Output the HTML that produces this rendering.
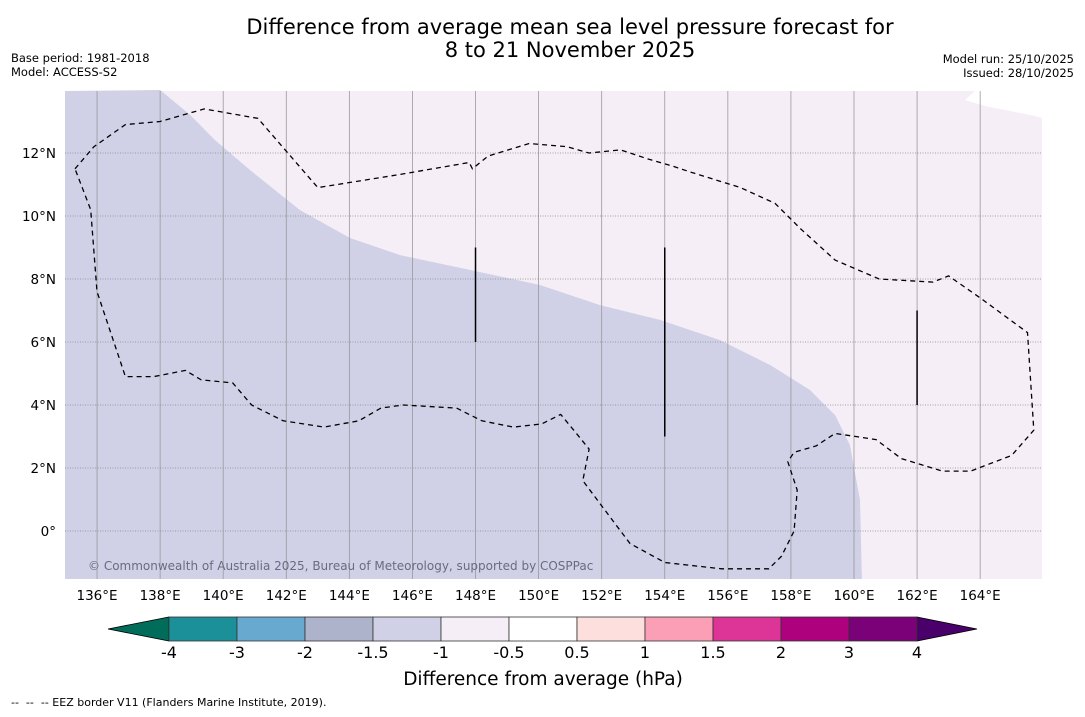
<!DOCTYPE html>
<html><head><meta charset="utf-8"><style>
body{margin:0;background:#fff;font-family:"DejaVu Sans","Liberation Sans",sans-serif;}
svg text{font-family:"DejaVu Sans","Liberation Sans",sans-serif;}
</style></head><body>
<svg id="chart" width="1085" height="713" viewBox="0 0 1085 713">
<text x="570" y="34" font-size="21" text-anchor="middle">Difference from average mean sea level pressure forecast for</text>
<text x="570" y="57" font-size="21" text-anchor="middle">8 to 21 November 2025</text>
<text x="11" y="62" font-size="11.5">Base period: 1981-2018</text>
<text x="11" y="76" font-size="11.5">Model: ACCESS-S2</text>
<text x="1074" y="63" font-size="11.5" text-anchor="end">Model run: 25/10/2025</text>
<text x="1074" y="77" font-size="11.5" text-anchor="end">Issued: 28/10/2025</text>
<g id="map"></g>
<g id="cbar"></g>
<text x="543" y="685" font-size="18.5" text-anchor="middle">Difference from average (hPa)</text>
<text x="11" y="706" font-size="11" xml:space="preserve">--  --  -- EEZ border V11 (Flanders Marine Institute, 2019).</text>
</svg>
<script>
const lonTicks=[136,138,140,142,144,146,148,150,152,154,156,158,160,162,164];
const latTicks=[0,2,4,6,8,10,12];
const cbarLevels=["-4","-3","-2","-1.5","-1","-0.5","0.5","1","1.5","2","3","4"];
const cbarColors=["#1c9099","#67a9cf","#adb3cb","#d0d1e6","#f5eef6","#ffffff","#fde0dd","#fa9fb5","#dd3497","#ae017e","#7a0177"];
const anomalyBoundary=[[138.0,14],[138.95,13.21],[139.74,12.41],[140.85,11.46],[142.43,10.19],[144.02,9.30],[145.61,8.76],[147.82,8.29],[150.04,7.81],[151.95,7.17],[153.85,6.70],[155.75,6.06],[157.34,5.27],[158.6,4.48],[159.4,3.68],[159.87,2.73],[160.19,0.98],[160.25,-1.6]];
const eez=[[135.3,11.5],[135.9,12.2],[136.9,12.9],[138,13.0],[139.4,13.4],[141.1,13.1],[143,10.9],[145.5,11.3],[147.8,11.7],[147.9,11.5],[148.4,11.9],[149.7,12.3],[150.9,12.2],[151.6,12.0],[152.6,12.1],[153.5,11.8],[154.2,11.6],[154.8,11.4],[156.4,10.9],[157.5,10.4],[158.3,9.6],[159.4,8.6],[160.8,8.0],[162.5,7.9],[163.0,8.1],[164.0,7.4],[165.5,6.3],[165.7,3.2],[165,2.4],[163.7,1.9],[162.8,1.9],[161.5,2.3],[160.7,2.9],[159.4,3.1],[158.8,2.7],[158.1,2.5],[157.9,2.2],[158.2,1.3],[158.1,0.0],[157.7,-0.8],[157.3,-1.2],[155.8,-1.2],[154.0,-1.0],[152.9,-0.4],[152.3,0.4],[151.4,1.6],[151.6,2.6],[151.2,3.1],[150.7,3.7],[150.1,3.4],[149.2,3.3],[148.2,3.5],[147.4,3.9],[145.7,4.0],[145.0,3.9],[144.3,3.5],[143.2,3.3],[141.9,3.5],[140.9,4.0],[140.3,4.7],[139.3,4.8],[138.8,5.1],[137.8,4.9],[136.9,4.9],[136.0,7.6],[135.8,10.2],[135.3,11.5]];
const segs=[[148,6,9],[154,3,9],[162,4,7]];
const X0=65.5,PX=31.54,Y0=531,PY=31.5,L=65,R=1042,T=91,B=579;
const xs=lon=>X0+(lon-135)*PX, ys=lat=>Y0-lat*PY;
const ns="http://www.w3.org/2000/svg";
function mk(tag,attrs,parent){const e=document.createElementNS(ns,tag);for(const k in attrs)e.setAttribute(k,attrs[k]);parent.appendChild(e);return e;}
const map=document.getElementById('map');
const bg=mk('rect',{x:L,y:T,width:R-L,height:B-T,fill:'#f5eef6'},map);


let d=`M${L},${T} `+anomalyBoundary.map(p=>`L${xs(p[0]).toFixed(1)},${Math.min(B,ys(p[1])).toFixed(1)}`).join(' ')+` L${L},${B} Z`;
const neg=mk('path',{d,fill:'#d0d1e6'},map);


const nd=mk('path',{d:`M975,${T} L${R},${T} L${R},118 L1035,116 L985,106 L965,100 Z`,fill:'#fff'},map);


lonTicks.forEach(lon=>{const x=xs(lon);
 const g=mk('line',{x1:x,x2:x,y1:T,y2:B,stroke:'#999',"stroke-width":0.8},map);
 
 
 const t=mk('text',{x:x,y:600,"font-size":13.5,"text-anchor":"middle"},map);t.textContent=lon+'°E';
 
 });
latTicks.forEach(lat=>{const y=ys(lat);
 const g=mk('line',{x1:L,x2:R,y1:y,y2:y,stroke:'#888',"stroke-width":0.8,"stroke-dasharray":"1,1.5"},map);
 
 
 const t=mk('text',{x:56,y:y+5,"font-size":13.5,"text-anchor":"end"},map);t.textContent=lat===0?'0°':lat+'°N';
 
 });
const ez=mk('path',{d:'M'+eez.map(p=>xs(p[0]).toFixed(1)+','+ys(p[1]).toFixed(1)).join(' L'),fill:'none',stroke:'#000',"stroke-width":1.3,"stroke-dasharray":"5,4"},map);


segs.forEach(s=>{const l=mk('line',{x1:xs(s[0]),x2:xs(s[0]),y1:ys(s[2]),y2:ys(s[1]),stroke:'#000',"stroke-width":1.5},map);
 
 });
const cp=mk('text',{x:88,y:570,"font-size":12,fill:'#6a6a80'},map);cp.textContent='© Commonwealth of Australia 2025, Bureau of Meteorology, supported by COSPPac';


const cb=document.getElementById('cbar');const cx0=169,cw=68,cy=617,ch=24;
const lt=mk('polygon',{points:`108,629 ${cx0},${cy} ${cx0},${cy+ch}`,fill:'#016c59',stroke:'#000',"stroke-width":0.8},cb);


const rEnd=cx0+cw*cbarColors.length;
const rt=mk('polygon',{points:`${rEnd},${cy} 977,629 ${rEnd},${cy+ch}`,fill:'#49006a',stroke:'#000',"stroke-width":0.8},cb);


cbarColors.forEach((c,i)=>{const r=mk('rect',{x:cx0+i*cw,y:cy,width:cw,height:ch,fill:c,stroke:'#333',"stroke-width":0.8},cb);
 
 });
cbarLevels.forEach((v,i)=>{const t=mk('text',{x:cx0+i*cw,y:658,"font-size":16,"text-anchor":"middle"},cb);t.textContent=v;
 
 });
</script>
</body></html>
